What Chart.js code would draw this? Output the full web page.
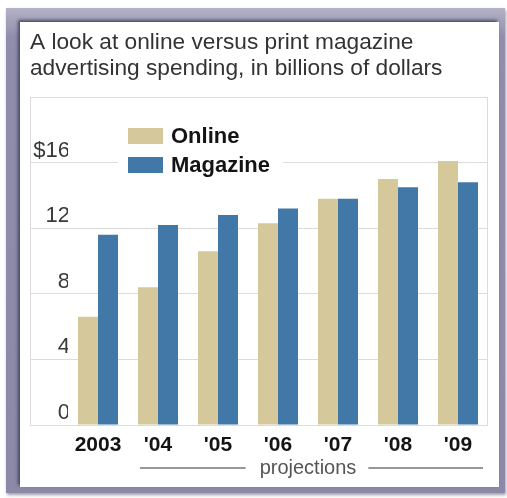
<!DOCTYPE html>
<html>
<head>
<meta charset="utf-8">
<script src="https://cdn.jsdelivr.net/npm/chart.js@4.4.1/dist/chart.umd.min.js"></script>
<style>
  html, body { margin: 0; padding: 0; background: #fff; }
  body { width: 507px; height: 498px; position: relative; overflow: hidden; }
  #frame {
    position: absolute; left: 6px; top: 8px; width: 499px; height: 485px;
    box-sizing: border-box;
    background: linear-gradient(#b4b2c6, #8f8dab 6%, #8b89a7);
    box-shadow: 1px 2px 3px rgba(60, 60, 90, 0.5);
  }
  #panel {
    position: absolute; left: 20px; top: 22px; width: 479px; height: 465px;
    background: #fff;
    box-shadow: -2px -2px 3px rgba(40, 40, 70, 0.7);
  }
  #myChart { position: absolute; left: 0; top: 0; }
</style>
</head>
<body>
<div id="frame"></div>
<div id="panel"></div>
<canvas id="myChart" width="507" height="498"></canvas>
<script>
// data
const years = ['2003', "'04", "'05", "'06", "'07", "'08", "'09"];
const online = [6.6, 8.4, 10.6, 12.3, 13.8, 15.0, 16.1];
const magazine = [11.6, 12.2, 12.8, 13.2, 13.8, 14.5, 14.8];
const yTickValues = [0, 4, 8, 12, 16, 20];
const yTickLabels = ['0', '4', '8', '12', '$16', ''];
const titleLines = ['A look at online versus print magazine', 'advertising spending, in billions of dollars'];
const footNote = 'projections';

const gridColor = '#dcdcdc';
Chart.defaults.font.family = "'Liberation Sans', Arial, Helvetica, sans-serif";

// legend box sitting inside the plot, on a white patch over the gridline
const insideLegend = {
    id: 'insideLegend',
    beforeDatasetsDraw(chart) {
        const ctx = chart.ctx;
        const area = chart.chartArea;
        const yScale = chart.scales.y;
        ctx.save();
        // left and right edges of the plot frame
        ctx.strokeStyle = gridColor;
        ctx.lineWidth = 1;
        ctx.beginPath();
        ctx.moveTo(yScale.left + 0.5, area.top);
        ctx.lineTo(yScale.left + 0.5, area.bottom);
        ctx.moveTo(area.right - 0.5, area.top);
        ctx.lineTo(area.right - 0.5, area.bottom);
        ctx.stroke();

        const x0 = 128, y0 = 128;
        ctx.fillStyle = '#fff';
        ctx.fillRect(x0 - 10, y0 - 8, 165, 62);
        ctx.font = "bold 22px 'Liberation Sans', Arial, sans-serif";
        ctx.textBaseline = 'middle';
        chart.data.datasets.forEach((ds, i) => {
            const y = y0 + i * 29;
            ctx.fillStyle = ds.backgroundColor;
            ctx.fillRect(x0, y, 35, 16);
            ctx.fillStyle = '#141414';
            ctx.fillText(ds.label, x0 + 43, y + 9);
        });
        ctx.restore();
    }
};

// "projections" note under '04 - '09
const projections = {
    id: 'projections',
    afterDraw(chart) {
        const ctx = chart.ctx;
        const xs = chart.scales.x;
        const start = xs.getPixelForValue(1) - 18;
        const end = xs.getPixelForValue(6) + 25;
        const mid = (xs.getPixelForValue(1) + xs.getPixelForValue(6)) / 2;
        const y = 468;
        ctx.save();
        ctx.font = "20px 'Liberation Sans', Arial, sans-serif";
        ctx.fillStyle = '#555';
        ctx.textAlign = 'center';
        ctx.textBaseline = 'middle';
        ctx.fillText(footNote, mid, y);
        const w = ctx.measureText(footNote).width;
        ctx.strokeStyle = '#777';
        ctx.lineWidth = 1.5;
        ctx.beginPath();
        ctx.moveTo(start, y);
        ctx.lineTo(mid - w / 2 - 14, y);
        ctx.moveTo(mid + w / 2 + 12, y);
        ctx.lineTo(end, y);
        ctx.stroke();
        ctx.restore();
    }
};

let chart1 = new Chart(document.getElementById('myChart').getContext('2d'), {
    type: 'bar',
    data: {
        labels: years,
        datasets: [{
            label: 'Online',
            data: online,
            backgroundColor: '#d5c99b',
            borderWidth: 0,
        }, {
            label: 'Magazine',
            data: magazine,
            backgroundColor: '#4178a8',
            borderWidth: 0,
        }]
    },
    options: {
        responsive: false,
        animation: false,
        layout: {
            padding: { left: 30, right: 19, top: 30, bottom: 33 }
        },
        datasets: {
            bar: { categoryPercentage: 2 / 3, barPercentage: 1 }
        },
        plugins: {
            legend: { display: false },
            tooltip: { enabled: false },
            title: {
                display: true,
                text: titleLines,
                align: 'start',
                color: '#333',
                font: { size: 22.7, weight: 'normal', lineHeight: 26 / 22.7 },
                padding: { top: 0, bottom: 15 }
            }
        },
        scales: {
            x: {
                grid: { display: false, drawTicks: false },
                border: { display: false },
                ticks: {
                    color: '#141414',
                    font: { size: 21, weight: 'bold' },
                    padding: 8,
                    maxRotation: 0
                },
                afterFit(scale) { scale.height = 40; }
            },
            y: {
                min: 0,
                max: 20,
                border: { display: false },
                grid: { color: gridColor, tickLength: 38, drawTicks: true },
                afterBuildTicks(scale) {
                    scale.ticks = yTickValues.map(v => ({ value: v }));
                },
                ticks: {
                    color: '#3a3a3a',
                    font: { size: 22 },
                    padding: -40,
                    labelOffset: -12,
                    callback: (value) => yTickLabels[yTickValues.indexOf(value)]
                },
                afterFit(scale) { scale.width = 38; }
            }
        }
    },
    plugins: [insideLegend, projections]
});
</script>
</body>
</html>
